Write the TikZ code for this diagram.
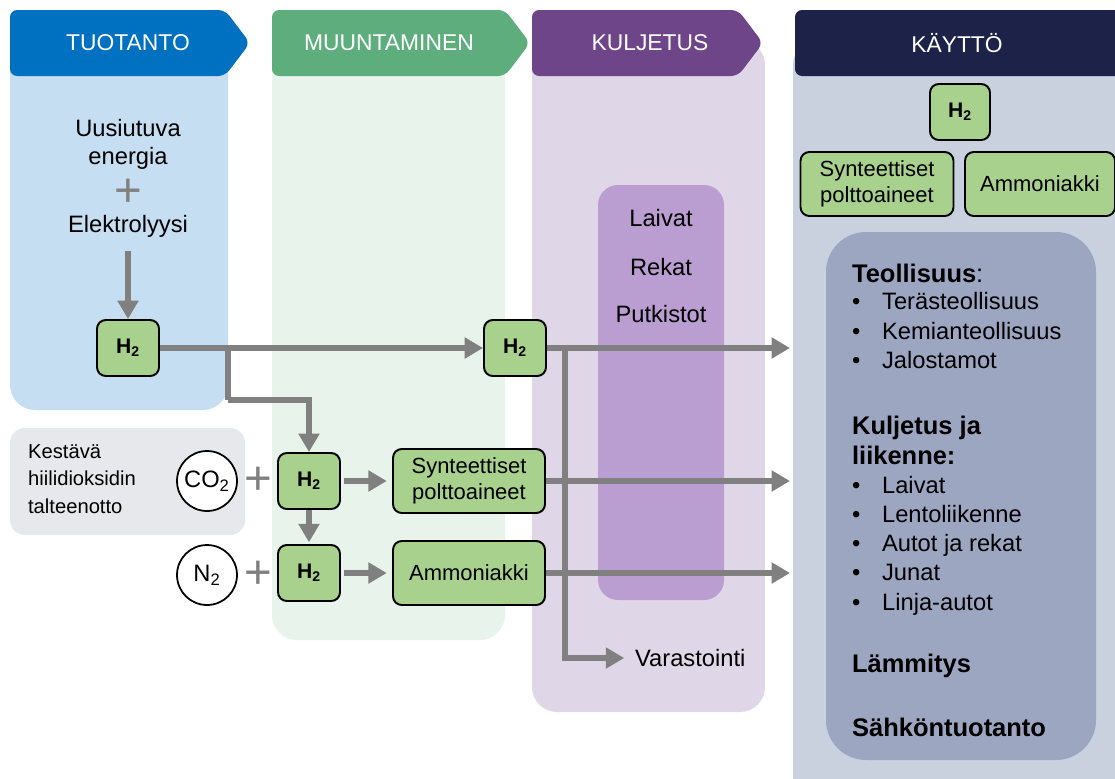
\documentclass[tikz,border=0pt]{standalone}
\usepackage{fontspec}
\setmainfont{Liberation Sans}
\usetikzlibrary{arrows.meta}

\definecolor{prodblue}{HTML}{0070C0}
\definecolor{convgreen}{HTML}{5EAD7D}
\definecolor{transpurple}{HTML}{6E4589}
\definecolor{usenavy}{HTML}{1D2248}
\definecolor{prodbg}{HTML}{C6DEF1}
\definecolor{convbg}{HTML}{E8F3EC}
\definecolor{transbg}{HTML}{DFD7E7}
\definecolor{usebg}{HTML}{C9D1DF}
\definecolor{useinner}{HTML}{9CA6C1}
\definecolor{modepurple}{HTML}{BB9ED1}
\definecolor{capturebg}{HTML}{E7E8EC}
\definecolor{boxgreen}{HTML}{A9D18E}
\definecolor{flowgray}{HTML}{808080}

\tikzset{
  flow/.style={draw=flowgray, line width=3.3pt, -{Triangle[length=10.5pt,width=11.5pt]}},
  gbox/.style={draw=black, line width=1.1pt, fill=boxgreen, rounded corners=5pt,
    inner sep=2pt, align=center, font=\fontsize{12.5}{14.5}\selectfont},
  hbox/.style={gbox, minimum width=1.24cm, minimum height=1.12cm,
    font=\fontsize{12}{14}\selectfont\bfseries},
  txt/.style={font=\fontsize{13.5}{16}\selectfont, inner sep=1pt, align=center},
  hdr/.style={text=white, font=\fontsize{13}{15}\selectfont},
  circ/.style={circle, draw=black, line width=1pt, fill=white, minimum size=1.2cm,
    inner sep=0pt, font=\fontsize{13.5}{16}\selectfont},
  plus/.style={text=flowgray, font=\fontsize{27}{27}\selectfont, inner sep=0pt},
  head/.style={font=\fontsize{14.5}{17}\selectfont, inner sep=1pt, anchor=west},
  item/.style={font=\fontsize{13.5}{16}\selectfont, inner sep=1pt, anchor=west,
    text height=10pt, text depth=3pt},
}

\begin{document}
\begin{tikzpicture}[x=0.02cm, y=-0.02cm]
\clip (0,0) rectangle (1115,778);
\fill[white] (0,0) rectangle (1115,778);

% column backgrounds
\fill[prodbg, rounded corners=0.5cm] (10,40) rectangle (228,410);
\fill[convbg, rounded corners=0.5cm] (272,40) rectangle (505,640);
\fill[transbg, rounded corners=0.5cm] (532,40) rectangle (765,712);
\fill[usebg, rounded corners=0.5cm] (793,40) rectangle (1160,830);
\fill[capturebg, rounded corners=0.3cm] (10,428) rectangle (245,535);
\fill[modepurple, rounded corners=0.4cm] (598,185) rectangle (724,600);
\fill[useinner, rounded corners=0.8cm] (826,232) rectangle (1096,760);

% headers
\fill[prodblue, rounded corners=4pt] (10,10) -- (225,10) -- (250,43) -- (225,76) -- (10,76) -- cycle;
\fill[convgreen, rounded corners=4pt] (272,10) -- (505,10) -- (530,43) -- (505,76) -- (272,76) -- cycle;
\fill[transpurple, rounded corners=4pt] (532,10) -- (738,10) -- (763,43) -- (738,76) -- (532,76) -- cycle;
\fill[usenavy, rounded corners=4pt] (795,10) -- (1160,10) -- (1160,76) -- (795,76) -- cycle;
\node[hdr] (tuot) at (128,43) {TUOTANTO};
\node[hdr] (muun) at (389,43) {MUUNTAMINEN};
\node[hdr] (kulj) at (650,43) {KULJETUS};
\node[hdr] (kayt) at (957,43) {KÄYTTÖ};

% production
\node[txt] (uusi) at (128,144) {Uusiutuva\\energia};
\node[plus] (plusa) at (128,193) {+};
\node[txt] (elek) at (128,226) {Elektrolyysi};
\node[hbox] (h2a) at (128,348) {H\textsubscript{2}};
\draw[flow, shorten <=7pt] (elek) -- (h2a);

% conversion
\node[txt, align=left, font=\fontsize{11.5}{15.5}\selectfont] (ccs) at (82,479) {Kestävä\\hiilidioksidin\\talteenotto};
\node[circ] (co2) at (207,481) {CO\textsubscript{2}};
\node[plus] (plusb) at (258,481) {+};
\node[hbox] (h2c) at (309,481) {H\textsubscript{2}};
\node[gbox, minimum width=3.04cm, minimum height=1.28cm] (syn) at (469,481) {Synteettiset\\polttoaineet};
\node[circ] (n2) at (207,575) {N\textsubscript{2}};
\node[plus] (plusc) at (258,575) {+};
\node[hbox] (h2d) at (309,573) {H\textsubscript{2}};
\node[gbox, minimum width=3.04cm, minimum height=1.28cm] (amm) at (469,573) {Ammoniakki};

% transport
\node[hbox] (h2b) at (515,348) {H\textsubscript{2}};
\node[txt] (laiv) at (661,218) {Laivat};
\node[txt] (rekat) at (661,267) {Rekat};
\node[txt] (putk) at (661,314) {Putkistot};
\node[txt, anchor=west] (varas) at (633,658) {Varastointi};

% flows
\coordinate (split) at (228,348);
\coordinate (bend) at (228,400);
\coordinate (tap) at (565,348);
\coordinate (outa) at (790,348);
\coordinate (outb) at (790,481);
\coordinate (outc) at (790,573);
\draw[flow] (h2a) -- (h2b);
\draw[flow, -] (split) -- (bend);
\draw[flow] (bend) -| (h2c);
\draw[flow, shorten <=2pt, shorten >=3pt] (h2c) -- (syn);
\draw[flow, shorten >=1pt] (h2c) -- (h2d);
\draw[flow, shorten <=2pt, shorten >=3pt] (h2d) -- (amm);
\draw[flow] (h2b) -- (outa);
\draw[flow] (syn) -- (outb);
\draw[flow] (amm) -- (outc);
\draw[flow, shorten >=5pt] (tap) |- (varas);

% use
\node[hbox, minimum width=1.2cm] (h2e) at (960,112) {H\textsubscript{2}};
\node[gbox, minimum width=3.06cm, minimum height=1.28cm] (syne) at (877,184) {Synteettiset\\polttoaineet};
\node[gbox, minimum width=3.0cm, minimum height=1.28cm] (amme) at (1040,184) {Ammoniakki};

\node[head] (teol) at (850,273) {\textbf{Teollisuus}:};
\foreach \t/\y [count=\i] in {Terästeollisuus/303, Kemianteollisuus/333, Jalostamot/362}{
  \node[item] (dota\i) at (850,\y) {•};
  \node[item] (itema\i) at (880,\y) {\t};
}
\node[head, align=left] (liik) at (850,440) {\textbf{Kuljetus ja}\\\textbf{liikenne:}};
\foreach \t/\y [count=\i] in {Laivat/487, Lentoliikenne/516, Autot ja rekat/545, Junat/574, Linja-autot/604}{
  \node[item] (dotb\i) at (850,\y) {•};
  \node[item] (itemb\i) at (880,\y) {\t};
}
\node[head] (lamm) at (850,666) {\textbf{Lämmitys}};
\node[head] (sahk) at (850,727) {\textbf{Sähköntuotanto}};
\end{tikzpicture}
\end{document}
